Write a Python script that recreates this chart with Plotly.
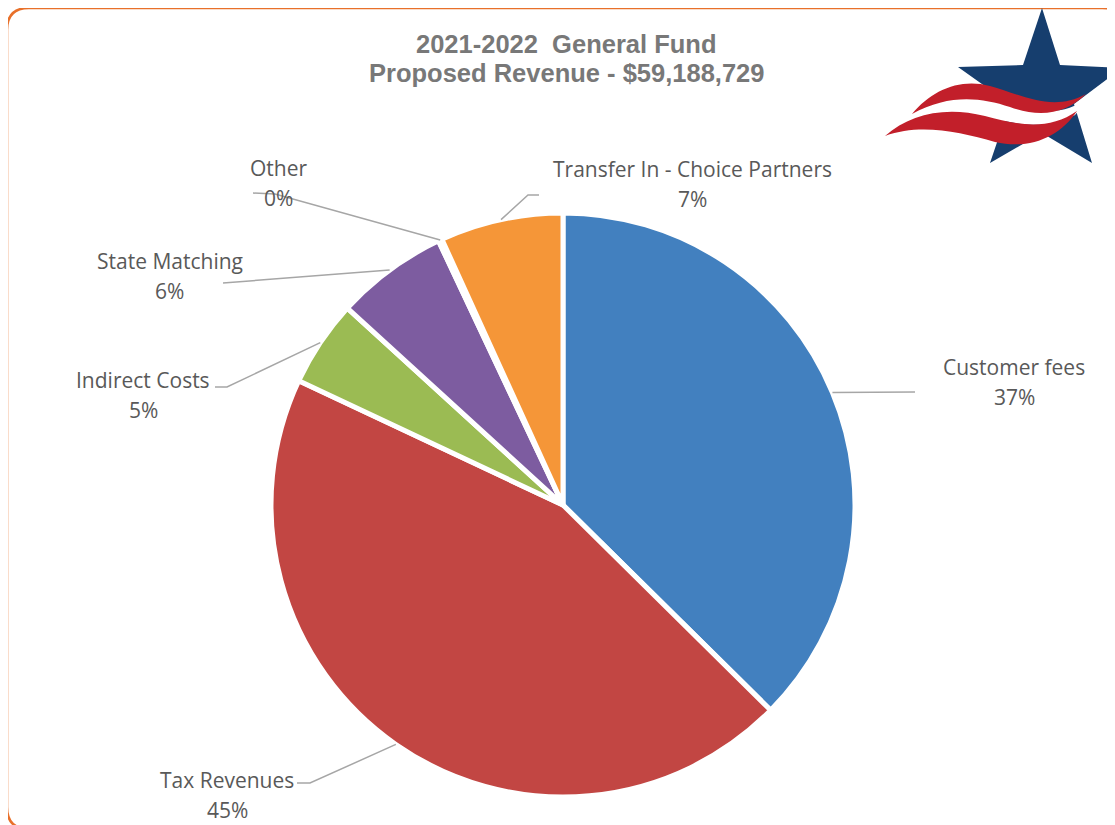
import math
import plotly.graph_objects as go

W, H = 1115, 825
OFF = 8  # page body margin: the figure is drawn 8px in from the window corner

# data
categories = ["Customer fees", "Tax Revenues", "Indirect Costs", "State Matching",
              "Other", "Transfer In - Choice Partners"]
amounts = [22140000, 26390000, 2830000, 3680000, 120000, 4028729]
colors = ["#4280BF", "#C24643", "#9BBB53", "#7D5CA0", "#4BACC6", "#F59638"]
title_lines = ["2021-2022  General Fund", "Proposed Revenue - $59,188,729"]

# layout: pie placement (window pixels) and label placement
CX, CY, R = 563, 505, 292
label_pos = [(1014, 367), (227, 780), (143, 380), (170, 261), (278, 168), (692, 169)]
leader_pts = [
    [(915, 392)],
    [(310, 783), (297, 783)],
    [(227, 387), (215, 387)],
    [(223, 283)],
    [(275, 194), (253, 193)],
    [(528, 195), (539, 195)],
]
GRAY = "#595959"
LINE = "#A6A6A6"


def p(x, y):
    return (x - OFF) / W, 1 - (y - OFF) / H


def path(cmds):
    out = []
    for c in cmds:
        if isinstance(c, str):
            out.append(c)
        else:
            x, y = p(*c)
            out.append(f"{x:.5f},{y:.5f}")
    return " ".join(out)


(dx0, dy0), (dx1, dy1) = p(CX - R, CY + R), p(CX + R, CY - R)
fig = go.Figure(go.Pie(
    labels=categories, values=amounts, sort=False, direction="clockwise",
    rotation=0, textinfo="none", hoverinfo="label+percent",
    marker=dict(colors=colors, line=dict(color="white", width=5)),
    domain=dict(x=[dx0, dx1], y=[dy0, dy1]),
    showlegend=False,
))

shapes = []
annotations = []

# leader lines + labels
total = sum(amounts)
cum = 0
for i, (name, v) in enumerate(zip(categories, amounts)):
    mid = (cum + v / 2) / total * 2 * math.pi
    cum += v
    ax, ay = CX + R * math.sin(mid), CY - R * math.cos(mid)
    cmds = ["M", (ax, ay)]
    for pt in leader_pts[i]:
        cmds += ["L", pt]
    shapes.append(dict(type="path", xref="paper", yref="paper", path=path(cmds),
                       line=dict(color=LINE, width=1.5)))
    lx, ly = label_pos[i]
    pct = f"{round(v / total * 100)}%"
    for k, txt in enumerate([name, pct]):
        x, y = p(lx, ly + 30 * k)
        annotations.append(dict(x=x, y=y, xref="paper", yref="paper", text=txt,
                                showarrow=False, xanchor="center", yanchor="middle",
                                font=dict(family="Open Sans, Liberation Sans, sans-serif",
                                          size=21, color=GRAY)))

# title
for k, t in enumerate(title_lines):
    x, y = p(566, 44 + 29 * k)
    annotations.append(dict(x=x, y=y, xref="paper", yref="paper", text=f"<b>{t}</b>",
                            showarrow=False, xanchor="center", yanchor="middle",
                            font=dict(family="Liberation Sans, Arial, sans-serif",
                                      size=25.5, color="#787878")))

# rounded orange border
x0, y0, x1, y1, r = 7, 8, 1124, 829, 22
shapes.append(dict(type="path", xref="paper", yref="paper", layer="above",
                   line=dict(color="#E8702A", width=2.5),
                   path=path(["M", (x0 + r, y0), "L", (x1 - r, y0), "Q", (x1, y0), (x1, y0 + r),
                              "L", (x1, y1 - r), "Q", (x1, y1), (x1 - r, y1),
                              "L", (x0 + r, y1), "Q", (x0, y1), (x0, y1 - r),
                              "L", (x0, y0 + r), "Q", (x0, y0), (x0 + r, y0), "Z"])))

# star logo
star = [(1042, 8), (1060, 65), (1122, 68), (1074, 104), (1092, 163), (1042, 133),
        (990, 163), (1010, 104), (958, 67), (1023, 65)]
cmds = ["M", star[0]]
for pt in star[1:]:
    cmds += ["L", pt]
cmds.append("Z")
shapes.append(dict(type="path", xref="paper", yref="paper", path=path(cmds),
                   fillcolor="#163E6E", line=dict(width=0)))

# white gap between the waves across the star
shapes.append(dict(type="path", xref="paper", yref="paper", fillcolor="white",
                   line=dict(width=0),
                   path=path(["M", (912, 114), "C", (950, 88), (1010, 96), (1040, 108),
                              "C", (1060, 115), (1078, 106), (1092, 95),
                              "L", (1075, 115), "C", (1050, 130), (1020, 125), (990, 118),
                              "C", (955, 110), (925, 113), (885, 136), "Z"])))
# red waves
shapes.append(dict(type="path", xref="paper", yref="paper", fillcolor="#C21F2A",
                   line=dict(width=0),
                   path=path(["M", (912, 114), "C", (932, 90), (960, 78), (990, 86),
                              "C", (1020, 94), (1052, 113), (1086, 94),
                              "C", (1066, 114), (1040, 118), (1010, 107),
                              "C", (980, 97), (948, 94), (912, 114), "Z"])))
shapes.append(dict(type="path", xref="paper", yref="paper", fillcolor="#C21F2A",
                   line=dict(width=0),
                   path=path(["M", (885, 136), "C", (910, 114), (945, 106), (985, 116),
                              "C", (1020, 126), (1050, 130), (1077, 111),
                              "C", (1060, 137), (1030, 150), (995, 142),
                              "C", (960, 132), (920, 123), (885, 136), "Z"])))

fig.update_layout(
    width=W, height=H, margin=dict(l=0, r=0, t=0, b=0),
    paper_bgcolor="white", plot_bgcolor="white",
    shapes=shapes, annotations=annotations,
)

fig.write_html("out.html")
